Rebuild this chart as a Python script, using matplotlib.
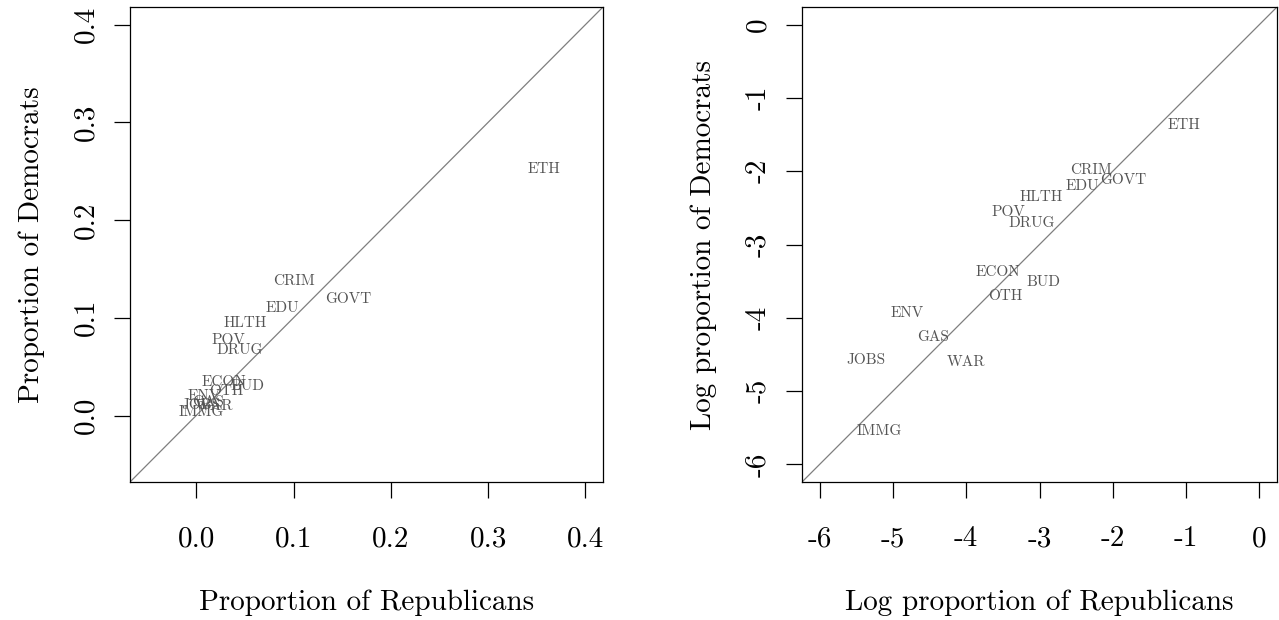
import numpy as np
import matplotlib
matplotlib.use("Agg")
import matplotlib.pyplot as plt

plt.rcParams['font.family'] = ['cmr10', 'DejaVu Serif']
plt.rcParams['axes.unicode_minus'] = False

topics = ["ETH", "CRIM", "GOVT", "EDU", "HLTH", "POV", "DRUG", "ECON",
          "BUD", "OTH", "ENV", "GAS", "JOBS", "WAR", "IMMG"]
prop_rep = [0.357, 0.100, 0.156, 0.089, 0.0508, 0.0327, 0.045, 0.0282,
            0.0523, 0.0311, 0.00815, 0.0117, 0.00466, 0.0183, 0.00563]
prop_dem = [0.252, 0.138, 0.119, 0.110, 0.0944, 0.0773, 0.0665, 0.034,
            0.0296, 0.0247, 0.0194, 0.0140, 0.01025, 0.01005, 0.00392]

lin_ticks = [0.0, 0.1, 0.2, 0.3, 0.4]
lin_ticklabels = ["0.0", "0.1", "0.2", "0.3", "0.4"]
log_ticks = [-6, -5, -4, -3, -2, -1, 0]
log_ticklabels = ["-6", "-5", "-4", "-3", "-2", "-1", "0"]

W, H = 1279, 620
fig = plt.figure(figsize=(W / 100, H / 100), dpi=100)

def px_axes(x0, x1, y0, y1):
    return fig.add_axes([x0 / W, 1 - y1 / H, (x1 - x0) / W, (y1 - y0) / H])

ax1 = px_axes(130, 603, 7, 482)
ax2 = px_axes(802, 1277, 7, 482)

FS = 21
LFS = 11
TXT = '#555555'

def style(ax, lim, ticks, labels, xlabel, ylabel):
    lo, hi = lim
    pad = (hi - lo) * 0.04
    ax.set_xlim(lo - pad, hi + pad)
    ax.set_ylim(lo - pad, hi + pad)
    ax.plot([lo - 2 * pad, hi + 2 * pad], [lo - 2 * pad, hi + 2 * pad],
            color='#7f7f7f', lw=0.9, zorder=1)
    ax.set_xticks(ticks)
    ax.set_xticklabels(labels, fontsize=FS)
    ax.set_yticks(ticks)
    ax.set_yticklabels(labels, fontsize=FS, rotation=90, va='center')
    ax.tick_params(direction='out', length=11.5, width=0.9)
    ax.tick_params(axis='x', pad=20)
    ax.tick_params(axis='y', pad=10.5)
    ax.set_xlabel(xlabel, fontsize=FS, labelpad=27)
    ax.set_ylabel(ylabel, fontsize=FS, labelpad=20.5)
    for s in ax.spines.values():
        s.set_linewidth(0.9)

style(ax1, (-0.05, 0.40), lin_ticks, lin_ticklabels,
      "Proportion of Republicans", "Proportion of Democrats")
for t, x, y in zip(topics, prop_rep, prop_dem):
    ax1.text(x, y, t, fontsize=LFS, color=TXT, ha='center', va='center')

style(ax2, (-6, 0), log_ticks, log_ticklabels,
      "Log proportion of Republicans", "Log proportion of Democrats")
for t, x, y in zip(topics, np.log(prop_rep), np.log(prop_dem)):
    ax2.text(x, y, t, fontsize=LFS, color=TXT, ha='center', va='center')

fig.savefig("out.png", dpi=100)
